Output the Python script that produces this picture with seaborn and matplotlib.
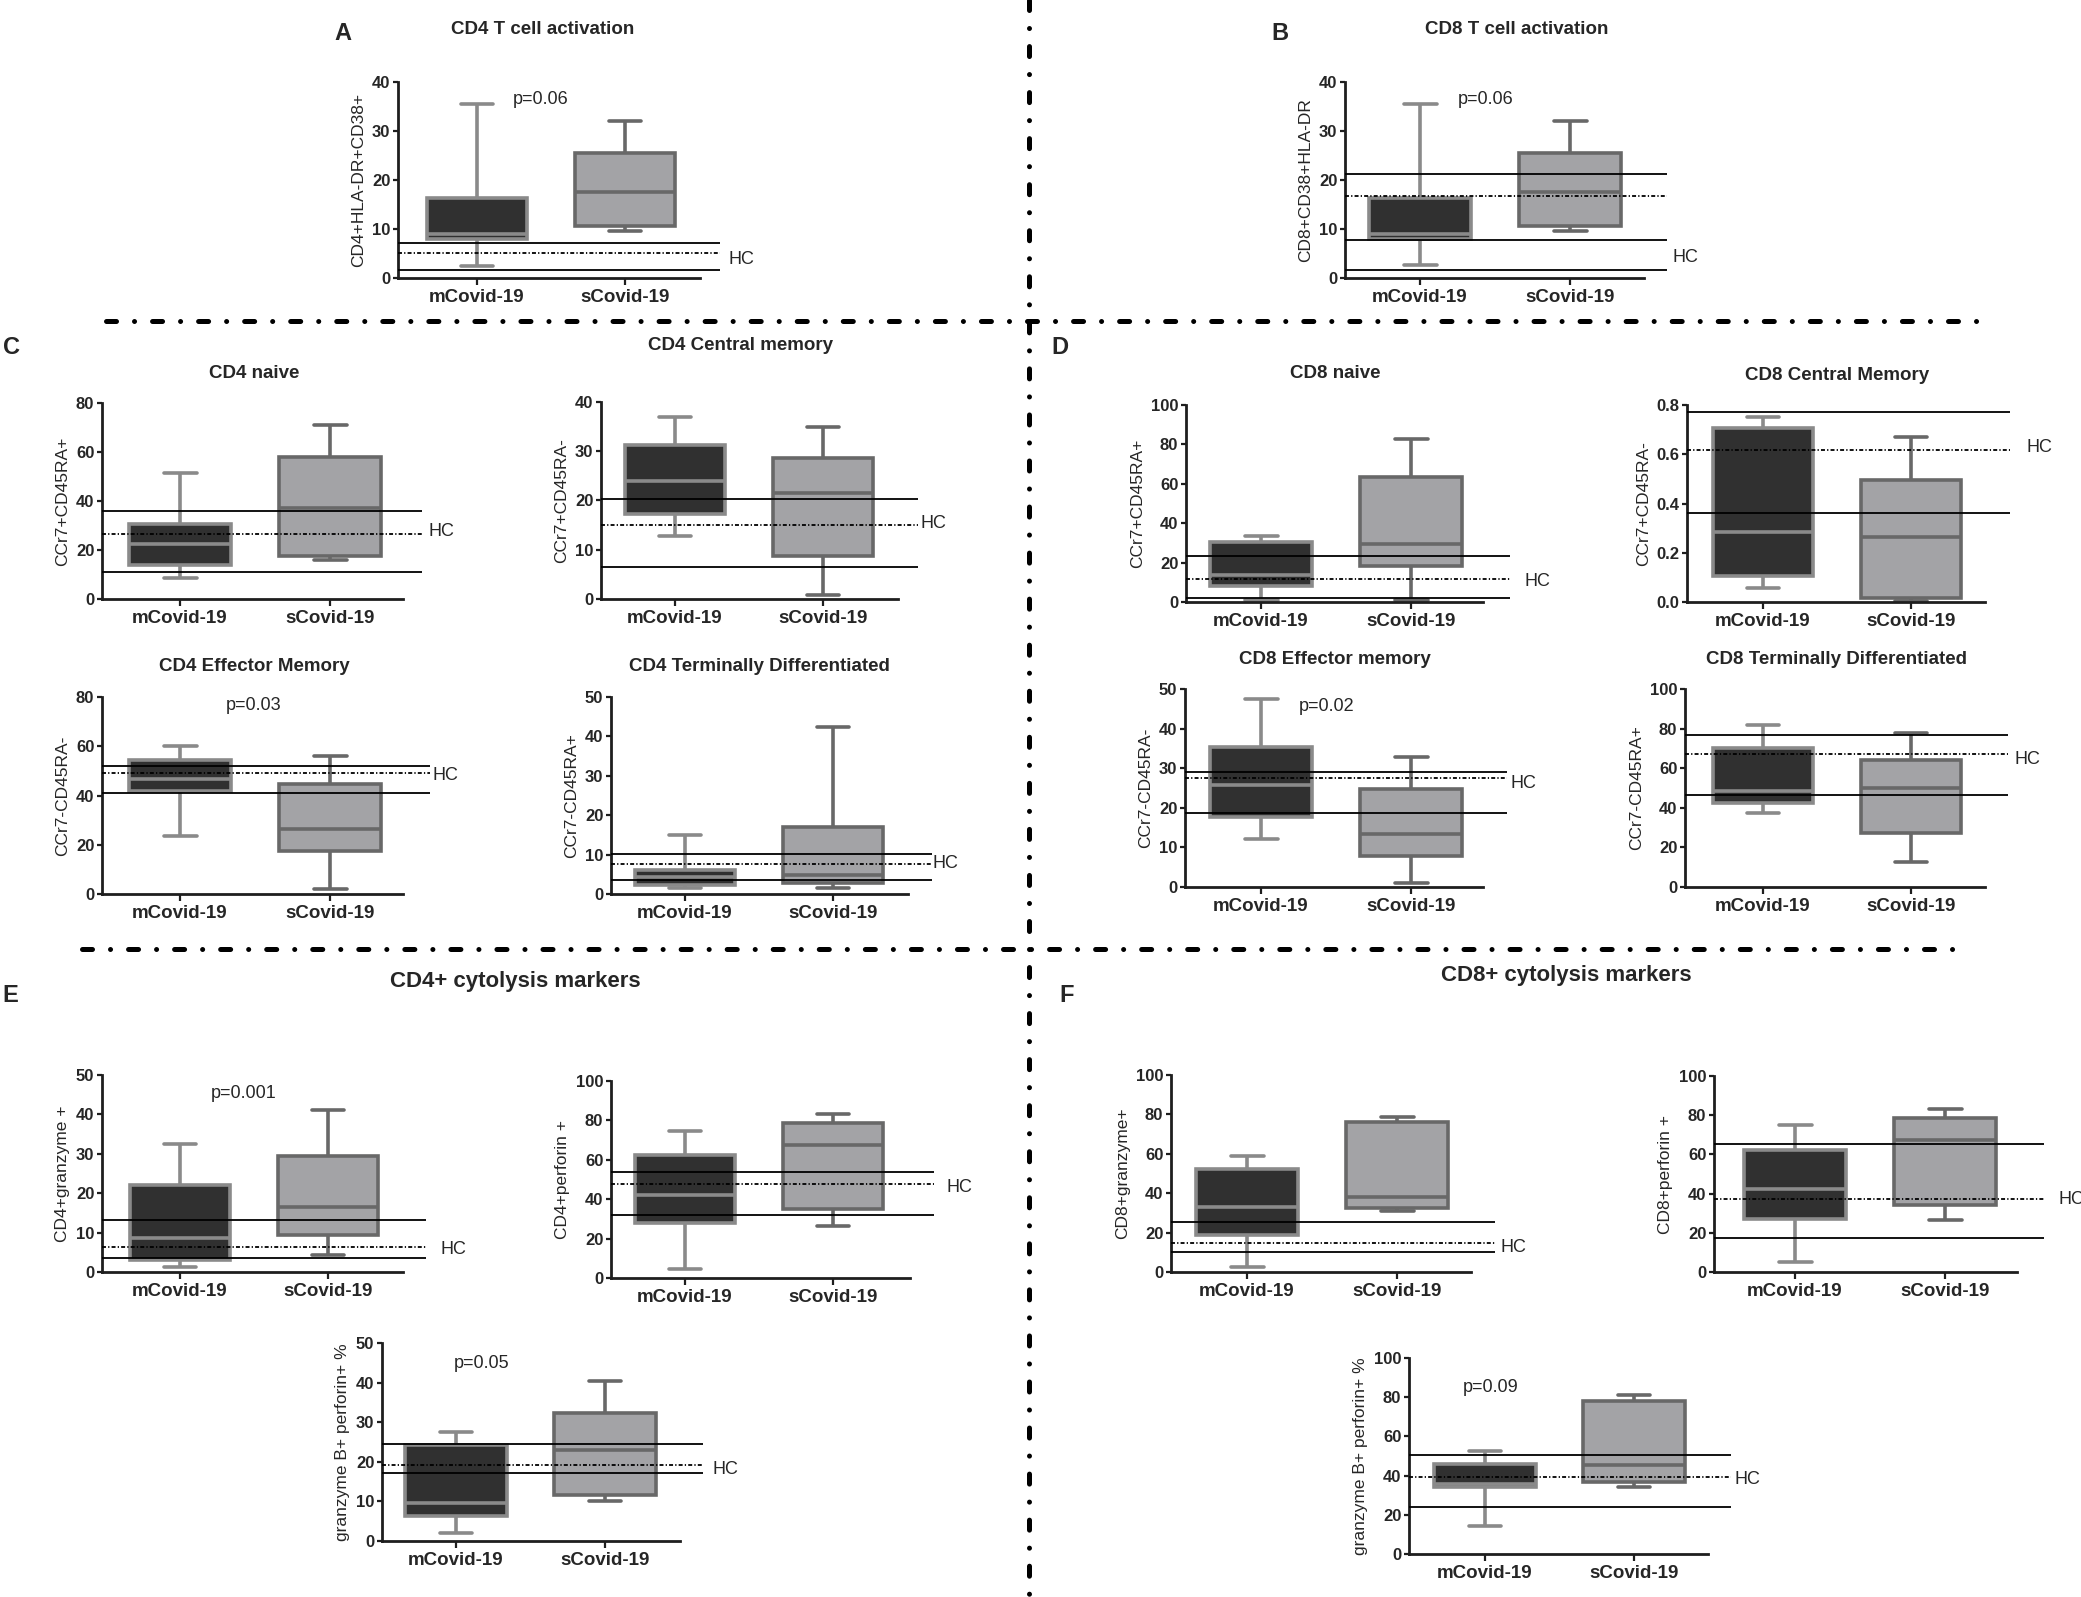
import numpy as np
import pandas as pd
import matplotlib
matplotlib.use("Agg")
import matplotlib.pyplot as plt
from matplotlib.lines import Line2D
import seaborn as sns

sns.set_style("ticks")
plt.rcParams['font.family'] = ['Liberation Sans', 'DejaVu Sans']

W, H = 2081, 1597
groups = ['mCovid-19', 'sCovid-19']

# five-number summaries: min, Q1, median, Q3, max
cd4_act_m = [2.5, 8.0, 9.0, 16.3, 35.5]
cd4_act_s = [9.5, 10.7, 17.5, 25.5, 32.0]
cd8_act_m = [2.6, 8.0, 9.0, 16.3, 35.5]
cd8_act_s = [9.5, 10.6, 17.5, 25.6, 32.0]

cd4_naive_m = [8.5, 14.0, 22.5, 30.5, 51.5]
cd4_naive_s = [16.0, 17.5, 37.0, 58.0, 71.0]
cd4_cm_m = [12.7, 17.3, 24.0, 31.3, 37.0]
cd4_cm_s = [0.9, 8.7, 21.6, 28.6, 35.0]
cd4_em_m = [23.5, 42.0, 46.5, 54.5, 60.2]
cd4_em_s = [2.0, 17.3, 26.4, 44.8, 56.0]
cd4_td_m = [1.4, 2.3, 4.3, 6.1, 14.9]
cd4_td_s = [1.4, 2.9, 4.7, 17.0, 42.3]

cd8_naive_m = [1.2, 8.3, 13.5, 30.5, 33.4]
cd8_naive_s = [0.8, 18.5, 29.4, 63.5, 82.5]
cd8_cm_m = [0.058, 0.104, 0.285, 0.707, 0.75]
cd8_cm_s = [0.005, 0.016, 0.265, 0.497, 0.67]
cd8_em_m = [12.2, 17.7, 25.8, 35.4, 47.6]
cd8_em_s = [0.9, 7.9, 13.3, 24.8, 32.9]
cd8_td_m = [37.5, 42.2, 48.5, 70.2, 82.0]
cd8_td_s = [12.7, 27.2, 49.8, 64.0, 77.7]

cd4_gzm_m = [1.3, 3.1, 8.6, 22.0, 32.6]
cd4_gzm_s = [4.2, 9.5, 16.4, 29.5, 41.2]
cd4_prf_m = [4.7, 27.8, 42.2, 62.4, 74.4]
cd4_prf_s = [26.6, 34.9, 67.5, 78.8, 83.4]
cd4_gp_m = [2.1, 6.2, 9.6, 24.2, 27.4]
cd4_gp_s = [10.1, 11.7, 23.0, 32.4, 40.5]

cd8_gzm_m = [2.5, 18.8, 33.0, 52.5, 59.0]
cd8_gzm_s = [30.8, 32.7, 38.1, 76.3, 78.8]
cd8_prf_m = [4.9, 26.9, 42.5, 62.2, 74.9]
cd8_prf_s = [26.6, 34.2, 67.3, 78.8, 83.4]
cd8_gp_m = [14.1, 34.0, 35.6, 46.0, 52.7]
cd8_gp_s = [34.2, 36.8, 45.4, 78.0, 81.0]

# healthy control reference lines (solid range lines, dotted centre line)
hc_solid = {
    'A': [7.2, 1.7], 'B': [21.3, 7.8, 1.6],
    'C1': [36.0, 11.0], 'C2': [20.4, 6.5], 'C3': [52.0, 41.1], 'C4': [10.2, 3.5],
    'D1': [23.2, 1.8], 'D2': [0.77, 0.36], 'D3': [29.0, 18.8], 'D4': [77.0, 46.3],
    'E1': [13.2, 3.5], 'E2': [53.6, 32.2], 'E3': [24.6, 17.2],
    'F1': [25.4, 10.2], 'F2': [65.5, 17.2], 'F3': [50.3, 24.0],
}
hc_dotted = {
    'A': 5.2, 'B': 16.7, 'C1': 26.7, 'C2': 15.1, 'C3': 49.0, 'C4': 7.6,
    'D1': 11.5, 'D2': 0.617, 'D3': 27.4, 'D4': 67.3,
    'E1': 6.4, 'E2': 47.8, 'E3': 19.2, 'F1': 14.6, 'F2': 37.2, 'F3': 39.5,
}

p_values = {'A': 'p=0.06', 'B': 'p=0.06', 'C3': 'p=0.03', 'D3': 'p=0.02',
            'E1': 'p=0.001', 'E3': 'p=0.05', 'F3': 'p=0.09'}

# key: (values m, values s, y max, y step, y label, tick format)
panels = {
    'A': (cd4_act_m, cd4_act_s, 40, 10, 'CD4+HLA-DR+CD38+', '%d'),
    'B': (cd8_act_m, cd8_act_s, 40, 10, 'CD8+CD38+HLA-DR', '%d'),
    'C1': (cd4_naive_m, cd4_naive_s, 80, 20, 'CCr7+CD45RA+', '%d'),
    'C2': (cd4_cm_m, cd4_cm_s, 40, 10, 'CCr7+CD45RA-', '%d'),
    'C3': (cd4_em_m, cd4_em_s, 80, 20, 'CCr7-CD45RA-', '%d'),
    'C4': (cd4_td_m, cd4_td_s, 50, 10, 'CCr7-CD45RA+', '%d'),
    'D1': (cd8_naive_m, cd8_naive_s, 100, 20, 'CCr7+CD45RA+', '%d'),
    'D2': (cd8_cm_m, cd8_cm_s, 0.8, 0.2, 'CCr7+CD45RA-', '%.1f'),
    'D3': (cd8_em_m, cd8_em_s, 50, 10, 'CCr7-CD45RA-', '%d'),
    'D4': (cd8_td_m, cd8_td_s, 100, 20, 'CCr7-CD45RA+', '%d'),
    'E1': (cd4_gzm_m, cd4_gzm_s, 50, 10, 'CD4+granzyme +', '%d'),
    'E2': (cd4_prf_m, cd4_prf_s, 100, 20, 'CD4+perforin +', '%d'),
    'E3': (cd4_gp_m, cd4_gp_s, 50, 10, 'granzyme B+ perforin+ %', '%d'),
    'F1': (cd8_gzm_m, cd8_gzm_s, 100, 20, 'CD8+granzyme+', '%d'),
    'F2': (cd8_prf_m, cd8_prf_s, 100, 20, 'CD8+perforin +', '%d'),
    'F3': (cd8_gp_m, cd8_gp_s, 100, 20, 'granzyme B+ perforin+ %', '%d'),
}

# --- layout in pixels: y spine x, tick 0 x, tick 1 x, x-axis end, HC line end, top, bottom
layout = {
    'A': (398, 477, 625, 700, 720, 82, 278),
    'B': (1345, 1420, 1570, 1644, 1667, 82, 278),
    'C1': (102, 180, 330, 403, 422, 403, 599),
    'C2': (601, 675, 823, 898, 918, 402, 599),
    'C3': (102, 180, 330, 403, 430, 697, 894),
    'C4': (611, 685, 833, 908, 932, 697, 894),
    'D1': (1186, 1261, 1411, 1483, 1510, 405, 602),
    'D2': (1687, 1763, 1911, 1985, 2010, 405, 602),
    'D3': (1185, 1261, 1411, 1483, 1507, 689, 887),
    'D4': (1685, 1763, 1911, 1985, 2008, 689, 887),
    'E1': (102, 180, 328, 403, 426, 1075, 1272),
    'E2': (611, 685, 833, 910, 934, 1081, 1278),
    'E3': (382, 456, 605, 680, 703, 1343, 1541),
    'F1': (1171, 1247, 1397, 1471, 1495, 1075, 1272),
    'F2': (1714, 1795, 1945, 2017, 2044, 1076, 1272),
    'F3': (1409, 1485, 1634, 1708, 1731, 1358, 1554),
}
hc_pos = {
    'A': (729, 259), 'B': (1672, 257), 'C1': (429, 532), 'C2': (920, 523),
    'C3': (432, 776), 'C4': (932, 863), 'D1': (1525, 581), 'D2': (2027, 448),
    'D3': (1510, 783), 'D4': (2014, 759), 'E1': (441, 1250), 'E2': (947, 1188),
    'E3': (713, 1469), 'F1': (1500, 1247), 'F2': (2058, 1200), 'F3': (1734, 1480),
}
p_pos = {'A': (541, 99), 'B': (1486, 99), 'C3': (254, 705), 'D3': (1327, 707),
         'E1': (244, 1093), 'E3': (482, 1364), 'F3': (1491, 1387)}

titles = [
    ('CD4 T cell activation', 543, 30, 13.5), ('CD8 T cell activation', 1517, 30, 13.5),
    ('CD4 naive', 254, 373, 13.5), ('CD4 Central memory', 740, 345, 13.5),
    ('CD4 Effector Memory', 254, 667, 13.5), ('CD4 Terminally Differentiated', 759, 667, 13.5),
    ('CD8 naive', 1335, 374, 13.5), ('CD8 Central Memory', 1837, 375, 13.5),
    ('CD8 Effector memory', 1335, 659, 13.5), ('CD8 Terminally Differentiated', 1837, 659, 13.5),
    ('CD4+ cytolysis markers', 515, 982, 16), ('CD8+ cytolysis markers', 1566, 975, 16),
]
letters = [('A', 343, 33), ('B', 1280, 33), ('C', 12, 348),
           ('D', 1060, 348), ('E', 10, 995), ('F', 1067, 995)]

fills = ['#303030', '#a3a3a6']
edges = ['#8a8a8a', '#686868']

fig = plt.figure(figsize=(W / 100, H / 100), dpi=100)


def put(x, y, s, **kw):
    fig.text(x / W, 1 - y / H, s, **kw)


def draw_panel(key):
    m_vals, s_vals, ymax, ystep, ylabel, fmt = panels[key]
    spine, t0, t1, xend, hcend, top, bottom = layout[key]
    ax = fig.add_axes([spine / W, 1 - bottom / H, (hcend - spine) / W, (bottom - top) / H])

    df = pd.DataFrame({'group': np.repeat(groups, len(m_vals)),
                       'value': list(m_vals) + list(s_vals)})
    for g, fill, edge in zip(groups, fills, edges):
        sns.boxplot(data=df[df['group'] == g], x='group', y='value', order=groups,
                    whis=(0, 100), width=0.68, color=fill, linecolor=edge,
                    linewidth=2.6, saturation=1, showfliers=False,
                    capwidths=0.22, ax=ax)

    unit = t1 - t0
    x0, x1 = (spine - t0) / unit, (hcend - t0) / unit
    ax.set_xlim(x0, x1)
    ax.set_ylim(0, ymax)
    sns.despine(ax=ax)
    ax.spines['bottom'].set_bounds(x0, (xend - t0) / unit)
    for side in ['left', 'bottom']:
        ax.spines[side].set_linewidth(2.0)
        ax.spines[side].set_color('#1e1e1e')

    for v in hc_solid[key]:
        ax.axhline(v, color='black', lw=1.3, zorder=6)
    ax.axhline(hc_dotted[key], color='black', lw=1.3,
               ls=(0, (2.2, 1.2, 0.7, 1.2)), zorder=6)

    yt = np.arange(0, ymax + ystep / 2, ystep)
    ax.set_yticks(yt, labels=[fmt % t for t in yt], fontsize=12, fontweight='bold')
    ax.set_xticks([0, 1], labels=groups, fontsize=13.5, fontweight='bold')
    ax.tick_params(axis='y', length=3.5, width=1.6, pad=2, color='#1e1e1e')
    ax.tick_params(axis='x', length=5, width=1.6, pad=3, color='#1e1e1e')
    ax.set_xlabel('')
    ax.set_ylabel(ylabel, fontsize=12.5, labelpad=4)
    ax.grid(False)

    hx, hy = hc_pos[key]
    put(hx, hy, 'HC', fontsize=13, ha='left', va='center')
    if key in p_values:
        px, py = p_pos[key]
        put(px, py, p_values[key], fontsize=13, ha='center', va='center')


for key in panels:
    draw_panel(key)

for text, x, y, size in titles:
    put(x, y, text, fontsize=size, fontweight='bold', ha='center', va='center')
for text, x, y in letters:
    put(x, y, text, fontsize=17, fontweight='bold', ha='center', va='center')

# dash-dot section dividers
divider_style = dict(color='black', lw=3.6, ls=(0, (2.0, 3.6, 0.01, 3.6)),
                     dash_capstyle='round', transform=fig.transFigure)
fig.add_artist(Line2D([106 / W, 1985 / W], [1 - 321 / H] * 2, **divider_style))
fig.add_artist(Line2D([82 / W, 1963 / W], [1 - 949 / H] * 2, **divider_style))
fig.add_artist(Line2D([1029 / W, 1029 / W], [1, 0], **divider_style))

fig.savefig('out.png', dpi=100, facecolor='white')
